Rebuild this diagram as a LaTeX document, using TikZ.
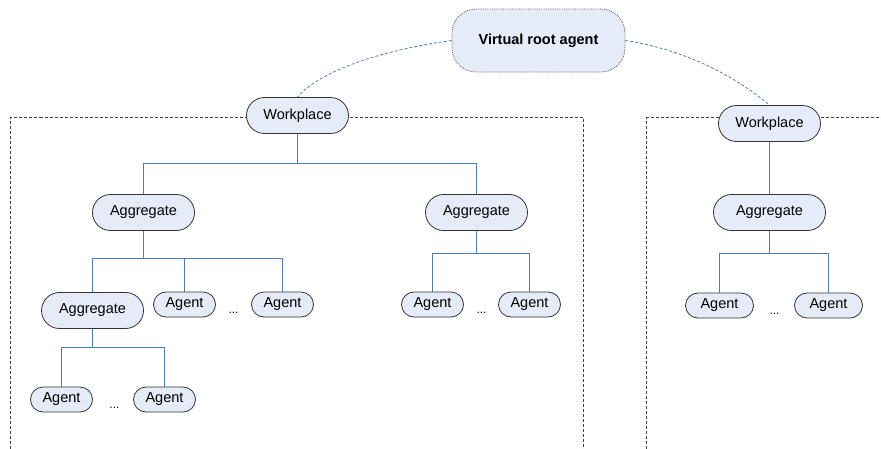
\documentclass[tikz,border=0pt]{standalone}
\usepackage{fontspec}
\setmainfont{Liberation Sans}
\definecolor{nodefill}{HTML}{E6ECF7}
\definecolor{linkblue}{HTML}{4A7CC4}
\begin{document}
\begin{tikzpicture}[x=1pt,y=-1pt,
  box/.style={draw=black!80, line width=0.8pt, fill=nodefill, inner sep=0pt,
    font=\fontsize{14.5}{16}\selectfont},
  wpbox/.style={box, minimum width=102pt, minimum height=36pt, rounded corners=18pt},
  aggbox/.style={box, minimum width=102pt, minimum height=36pt, rounded corners=18pt},
  agentbox/.style={box, minimum width=62pt, minimum height=25pt, rounded corners=12.5pt},
  rootbox/.style={box, draw=black!65, densely dotted, minimum width=173pt, minimum height=63pt,
    rounded corners=24pt, font=\fontsize{14.5}{16}\selectfont\bfseries},
  conn/.style={draw=linkblue, line width=1pt},
  link/.style={draw=linkblue, line width=0.8pt, dash pattern=on 3pt off 2pt},
  frame/.style={draw=black!75, line width=0.8pt, dash pattern=on 3pt off 2pt},
  dots/.style={font=\fontsize{12}{14}\selectfont, inner sep=0pt}]
% half-unit offset puts whole coordinates on pixel centres
\useasboundingbox (-0.5,-0.5) rectangle (880.5,447.5);

% workplace frames
\draw[frame] (10,448) -- (10,117) -- (583,117) -- (583,448);
\draw[frame] (646,448) -- (646,117) -- (881,117);

% bus levels
\coordinate (bus1) at (0,163);
\coordinate (bus2) at (0,258);
\coordinate (bus3) at (0,347);
\coordinate (bus4) at (0,253);
\coordinate (bus5) at (0,253);

% root and workplaces
\node[rootbox] (root) at (538,40) {Virtual root agent};
\node[wpbox] (wp1) at (297,115) {Workplace};
\node[wpbox] (wp2) at (769,123) {Workplace};

% left workplace
\node[aggbox] (ag1) at (143,212) {Aggregate};
\node[aggbox] (ag2) at (476,212) {Aggregate};
\node[aggbox] (ag3) at (92,310) {Aggregate};
\node[agentbox] (a1) at (184,304) {Agent};
\node[agentbox] (a2) at (282,304) {Agent};
\node[dots] (d1) at (233,312) {...};
\node[agentbox] (a3) at (61,399) {Agent};
\node[agentbox] (a4) at (164,399) {Agent};
\node[dots] (d2) at (114,407) {...};
\node[agentbox] (a5) at (432,304) {Agent};
\node[agentbox] (a6) at (529,304) {Agent};
\node[dots] (d3) at (481,312) {...};

% right workplace
\node[aggbox, minimum width=112pt] (ag4) at (769,212) {Aggregate};
\node[agentbox, minimum width=68pt] (a7) at (719,305) {Agent};
\node[agentbox, minimum width=68pt] (a8) at (828,305) {Agent};
\node[dots] (d4) at (774,313) {...};

% links to the virtual root
\draw[link] (root.west) .. controls (380,50) and (320,70) .. (wp1.north);
\draw[link] (root.east) .. controls (690,50) and (740,80) .. (wp2.north);

% tree connectors, one stroked path
\path[conn]
  (wp1.south) -- (wp1.south |- bus1)
  (ag1.north) |- (ag2.north |- bus1) -- (ag2.north)
  (ag1.south) -- (ag1.south |- bus2)
  (ag3.north) |- (a2.north |- bus2) -- (a2.north)
  (a1.north) -- (a1.north |- bus2)
  (ag3.south) -- (ag3.south |- bus3)
  (a3.north) |- (a4.north |- bus3) -- (a4.north)
  (ag2.south) -- (ag2.south |- bus4)
  (a5.north) |- (a6.north |- bus4) -- (a6.north)
  (wp2.south) -- (ag4.north)
  (ag4.south) -- (ag4.south |- bus5)
  (a7.north) |- (a8.north |- bus5) -- (a8.north);
\end{tikzpicture}
\end{document}
